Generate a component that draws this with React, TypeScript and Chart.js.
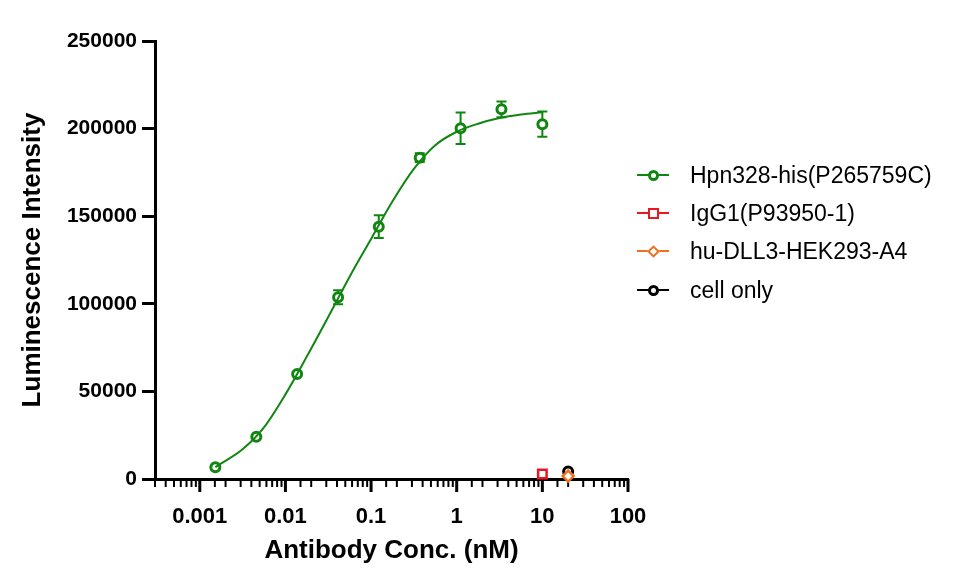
import React, { useEffect, useRef } from 'react';
import { Chart, registerables } from 'chart.js';

Chart.register(...registerables);

// concentrations (nM), 3-fold dilution from 10 nM
const conc = [0.00152, 0.00457, 0.0137, 0.0412, 0.123, 0.37, 1.11, 3.33, 10];
const hpnMean = [6700, 24100, 59900, 103700, 144000, 183400, 200200, 211000, 202500];
const hpnErr = [600, 900, 1200, 4000, 6500, 2500, 9000, 4500, 7200];

// fitted curve
const curveX = [0.00152, 0.00178, 0.00316, 0.00562, 0.01, 0.0178, 0.0316, 0.0562, 0.1, 0.178, 0.316, 0.562, 1, 1.78, 3.16, 5.62, 10];
const curveY = [6800, 8900, 17000, 29500, 48300, 70000, 92500, 115500, 137000, 158500, 177000, 190500, 198200, 202800, 206000, 208000, 209300];

const igg1X = [10];
const igg1Y = [2800];
const cellLineX = [20];
const cellLineY = [1700];
const cellOnlyX = [20];
const cellOnlyY = [4300];

const seriesNames = ['Hpn328-his(P265759C)', 'IgG1(P93950-1)', 'hu-DLL3-HEK293-A4', 'cell only'];

const GREEN = 'rgb(16,134,16)';
const RED = 'rgb(232,24,30)';
const ORANGE = 'rgb(240,112,32)';
const BLACK = '#000';
const FONT = "'Liberation Sans', Arial, sans-serif";

const isPow10 = (v: number) => {
  const l = Math.log10(v);
  return Math.abs(l - Math.round(l)) < 1e-9;
};

const pow10Label = (v: number) => {
  const e = Math.round(Math.log10(v));
  return e >= 0 ? String(10 ** e) : '0.' + '0'.repeat(-e - 1) + '1';
};

const errorBars = {
  id: 'errorBars',
  beforeDatasetsDraw(chart: any) {
    const { ctx, chartArea, scales: { x, y } } = chart;
    ctx.save();
    // x tick marks: long for decades, short for minors
    ctx.strokeStyle = BLACK;
    x.ticks.forEach((t: any) => {
      const px = x.getPixelForValue(t.value);
      const major = isPow10(t.value);
      ctx.lineWidth = major ? 3 : 2;
      ctx.beginPath();
      ctx.moveTo(px, chartArea.bottom);
      ctx.lineTo(px, chartArea.bottom + (major ? 13 : 8));
      ctx.stroke();
    });
    // error bars
    ctx.strokeStyle = GREEN;
    ctx.lineWidth = 2;
    conc.forEach((c, i) => {
      const px = x.getPixelForValue(c);
      const top = y.getPixelForValue(hpnMean[i] + hpnErr[i]);
      const bot = y.getPixelForValue(hpnMean[i] - hpnErr[i]);
      ctx.beginPath();
      ctx.moveTo(px, top);
      ctx.lineTo(px, bot);
      ctx.moveTo(px - 5, top);
      ctx.lineTo(px + 5, top);
      ctx.moveTo(px - 5, bot);
      ctx.lineTo(px + 5, bot);
      ctx.stroke();
    });
    ctx.restore();
  },
};

const legendItems = [
  { label: seriesNames[0], color: GREEN, shape: 'circle' },
  { label: seriesNames[1], color: RED, shape: 'square' },
  { label: seriesNames[2], color: ORANGE, shape: 'diamond' },
  { label: seriesNames[3], color: BLACK, shape: 'circle' },
];
const legendRows = [167, 205, 243, 282];

const Marker = ({ color, shape }: { color: string; shape: string }) => {
  const base: React.CSSProperties = { position: 'absolute', boxSizing: 'border-box', background: '#fff' };
  if (shape === 'square')
    return <div style={{ ...base, left: 640, top: -5.5, width: 11, height: 11, border: `2.5px solid ${color}` }} />;
  if (shape === 'diamond')
    return <div style={{ ...base, left: 641, top: -4.5, width: 9, height: 9, border: `2.5px solid ${color}`, transform: 'rotate(45deg)' }} />;
  return <div style={{ ...base, left: 640, top: -5.5, width: 11, height: 11, border: `3px solid ${color}`, borderRadius: '50%' }} />;
};

const App = () => {
  const chartRef = useRef<HTMLCanvasElement | null>(null);

  useEffect(() => {
    if (!chartRef.current) return;
    const chart = new Chart(chartRef.current, {
      type: 'scatter',
      data: {
        datasets: [
          {
            label: 'fit',
            data: curveX.map((x, i) => ({ x, y: curveY[i] })),
            showLine: true,
            borderColor: GREEN,
            borderWidth: 2,
            pointRadius: 0,
            cubicInterpolationMode: 'monotone',
            order: 0,
          },
          {
            label: seriesNames[2],
            data: cellLineX.map((x, i) => ({ x, y: cellLineY[i] })),
            pointStyle: 'rectRot',
            pointRadius: 5.5,
            borderWidth: 2.5,
            borderColor: ORANGE,
            backgroundColor: '#fff',
            order: 1,
          },
          {
            label: seriesNames[3],
            data: cellOnlyX.map((x, i) => ({ x, y: cellOnlyY[i] })),
            pointStyle: 'circle',
            pointRadius: 4.5,
            borderWidth: 3,
            borderColor: BLACK,
            backgroundColor: '#fff',
            order: 2,
          },
          {
            label: seriesNames[1],
            data: igg1X.map((x, i) => ({ x, y: igg1Y[i] })),
            pointStyle: 'rect',
            pointRadius: 6,
            borderWidth: 2.5,
            borderColor: RED,
            backgroundColor: '#fff',
            order: 3,
          },
          {
            label: seriesNames[0],
            data: conc.map((x, i) => ({ x, y: hpnMean[i] })),
            pointStyle: 'circle',
            pointRadius: 4.5,
            borderWidth: 3,
            borderColor: GREEN,
            backgroundColor: '#fff',
            order: 4,
          },
        ] as any,
      },
      options: {
        animation: false,
        responsive: true,
        maintainAspectRatio: false,
        clip: false as any,
        layout: { padding: { left: 0, top: 33, right: 321, bottom: 0 } },
        plugins: { legend: { display: false }, tooltip: { enabled: false } },
        scales: {
          x: {
            type: 'logarithmic',
            min: 0.0003,
            max: 100,
            afterFit: (s: any) => { s.height = 95; },
            grid: { display: false },
            border: { display: true, color: BLACK, width: 3 },
            ticks: {
              autoSkip: false,
              maxRotation: 0,
              minRotation: 0,
              padding: 17,
              color: BLACK,
              font: { family: FONT, size: 22, weight: 'bold' },
              callback: (v: any) => (isPow10(Number(v)) ? pow10Label(Number(v)) : ''),
            },
            title: {
              display: true,
              text: 'Antibody Conc. (nM)',
              color: BLACK,
              font: { family: FONT, size: 26, weight: 'bold' },
              padding: { top: 0, bottom: 8 },
            },
          },
          y: {
            min: 0,
            max: 250000,
            afterFit: (s: any) => { s.width = 147; },
            grid: { display: true, drawOnChartArea: false, tickLength: 13, tickWidth: 3, tickColor: BLACK },
            border: { display: true, color: BLACK, width: 3 },
            ticks: {
              stepSize: 50000,
              padding: 5,
              color: BLACK,
              font: { family: FONT, size: 21, weight: 'bold' },
              callback: (v: any) => String(v),
            },
            title: {
              display: true,
              text: 'Luminescence Intensity',
              color: BLACK,
              font: { family: FONT, size: 26, weight: 'bold' },
              padding: { top: 9, bottom: 0 },
            },
          },
        },
      } as any,
      plugins: [errorBars],
    });
    return () => {
      chart.destroy();
    };
  }, []);

  return (
    <div style={{ position: 'relative', width: 941, height: 566 }}>
      <canvas ref={chartRef} />
      {legendItems.map((it, i) => (
        <div key={it.label} style={{ position: 'absolute', left: 0, top: legendRows[i], width: 0, height: 0 }}>
          <div style={{ position: 'absolute', left: 629, top: -1, width: 32, height: 2, background: it.color }} />
          <Marker color={it.color} shape={it.shape} />
          <div
            style={{
              position: 'absolute',
              left: 682,
              top: -15,
              height: 30,
              lineHeight: '30px',
              whiteSpace: 'nowrap',
              fontFamily: FONT,
              fontSize: 23,
              color: '#000',
            }}
          >
            {it.label}
          </div>
        </div>
      ))}
    </div>
  );
};

export default App;
